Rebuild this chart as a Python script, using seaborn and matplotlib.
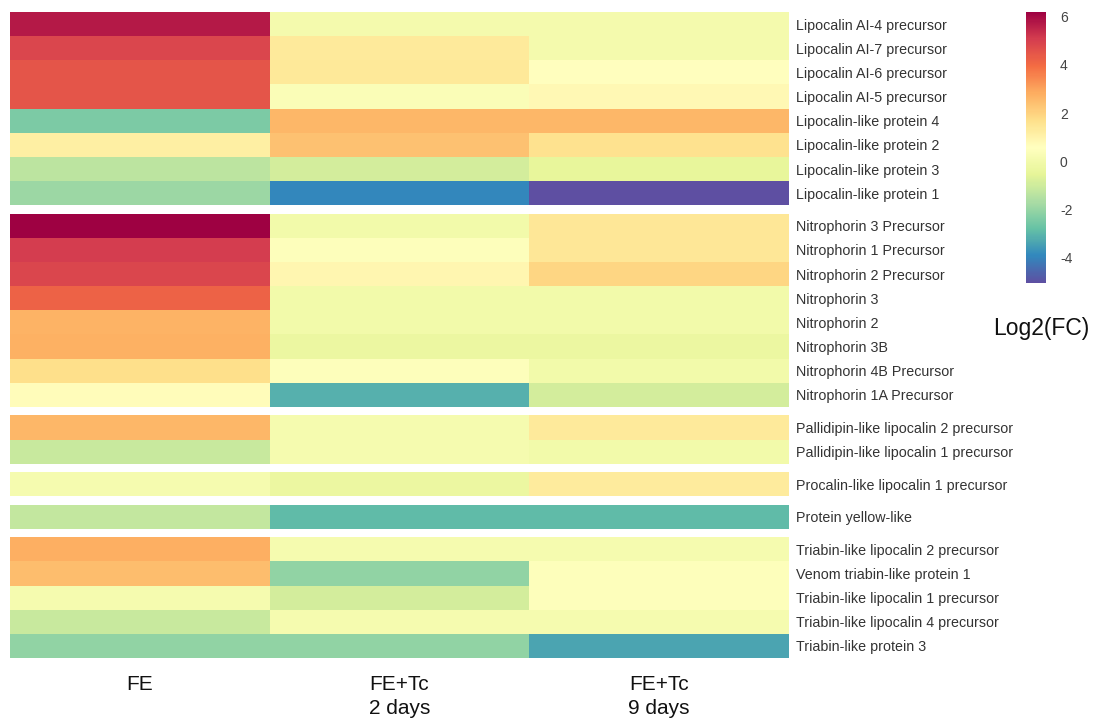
import numpy as np
import pandas as pd
import seaborn as sns
import matplotlib.pyplot as plt

# Experimental conditions (columns)
conditions = ["FE", "FE+Tc\n2 days", "FE+Tc\n9 days"]

# Protein families: names and log2 fold changes [FE, FE+Tc 2d, FE+Tc 9d]
lipocalin_names = [
    "Lipocalin AI-4 precursor", "Lipocalin AI-7 precursor",
    "Lipocalin AI-6 precursor", "Lipocalin AI-5 precursor",
    "Lipocalin-like protein 4", "Lipocalin-like protein 2",
    "Lipocalin-like protein 3", "Lipocalin-like protein 1",
]
lipocalin_fc = [
    [5.75, 0.05, 0.05],
    [4.85, 1.35, 0.05],
    [4.50, 1.40, 0.60],
    [4.50, 0.35, 0.80],
    [-2.45, 2.60, 2.60],
    [1.15, 2.40, 1.60],
    [-1.35, -0.90, -0.45],
    [-1.90, -3.95, -5.05],
]

nitrophorin_names = [
    "Nitrophorin 3 Precursor", "Nitrophorin 1 Precursor",
    "Nitrophorin 2 Precursor", "Nitrophorin 3", "Nitrophorin 2",
    "Nitrophorin 3B", "Nitrophorin 4B Precursor", "Nitrophorin 1A Precursor",
]
nitrophorin_fc = [
    [6.20, 0.00, 1.45],
    [5.10, 0.45, 1.45],
    [4.85, 0.90, 1.90],
    [4.20, 0.00, 0.00],
    [2.70, 0.00, 0.00],
    [2.75, -0.30, -0.30],
    [1.70, 0.45, 0.00],
    [0.70, -3.15, -0.90],
]

pallidipin_names = [
    "Pallidipin-like lipocalin 2 precursor",
    "Pallidipin-like lipocalin 1 precursor",
]
pallidipin_fc = [
    [2.60, 0.10, 1.35],
    [-1.10, 0.10, 0.00],
]

procalin_names = ["Procalin-like lipocalin 1 precursor"]
procalin_fc = [[0.10, -0.30, 1.30]]

yellow_names = ["Protein yellow-like"]
yellow_fc = [[-1.20, -2.90, -2.90]]

triabin_names = [
    "Triabin-like lipocalin 2 precursor", "Venom triabin-like protein 1",
    "Triabin-like lipocalin 1 precursor", "Triabin-like lipocalin 4 precursor",
    "Triabin-like protein 3",
]
triabin_fc = [
    [2.80, 0.10, 0.10],
    [2.50, -2.10, 0.45],
    [0.10, -0.90, 0.45],
    [-1.10, 0.10, 0.10],
    [-2.10, -2.10, -3.35],
]

cbar_ticks = [-4, -2, 0, 2, 4, 6]

groups = [
    (lipocalin_names, lipocalin_fc),
    (nitrophorin_names, nitrophorin_fc),
    (pallidipin_names, pallidipin_fc),
    (procalin_names, procalin_fc),
    (yellow_names, yellow_fc),
    (triabin_names, triabin_fc),
]
frames = [pd.DataFrame(v, index=n, columns=conditions) for n, v in groups]
all_vals = np.concatenate([f.values.ravel() for f in frames])
vmin, vmax = all_vals.min(), all_vals.max()

sns.set_theme(style="white")
plt.rcParams["font.family"] = ["Liberation Sans", "DejaVu Sans"]
plt.rcParams["axes.unicode_minus"] = False

W, H = 1100, 722
fig = plt.figure(figsize=(W / 100, H / 100), dpi=100)

# Stacked heatmap panels, one per protein family, separated by small gaps
left_px, right_px, top_px, bottom_px = 10, 789, 12, 658
gap_px = 8.4
n_rows = sum(len(f) for f in frames)
row_px = (bottom_px - top_px - gap_px * (len(frames) - 1)) / n_rows

cax = fig.add_axes([1026 / W, 1 - 283 / H, 20 / W, 271 / H])

y = top_px
for i, df in enumerate(frames):
    h = row_px * len(df)
    ax = fig.add_axes([left_px / W, 1 - (y + h) / H,
                       (right_px - left_px) / W, h / H])
    first = i == 0
    last = i == len(frames) - 1
    sns.heatmap(df, ax=ax, cmap="Spectral_r", vmin=vmin, vmax=vmax,
                cbar=first, cbar_ax=cax if first else None,
                xticklabels=last, yticklabels=True, linewidths=0)
    ax.yaxis.tick_right()
    ax.tick_params(axis="y", length=0, pad=5, labelsize=10.3,
                   labelcolor="#333333", labelrotation=0)
    if last:
        ax.tick_params(axis="x", length=0, pad=12, labelsize=15,
                       labelcolor="#111111", labelrotation=0)
        for t in ax.get_xticklabels():
            t.set_linespacing(1.35)
    else:
        ax.set_xticks([])
    ax.set_xlabel("")
    ax.set_ylabel("")
    y += h + gap_px

cax.set_yticks(cbar_ticks)
cax.tick_params(axis="y", length=0, pad=10, labelsize=10, labelcolor="#444444")
for s in cax.spines.values():
    s.set_visible(False)

fig.text(1041 / W, 1 - 328 / H, "Log2(FC)", ha="center", va="center",
         fontsize=16.5, color="#111111")

fig.savefig("out.png", dpi=100, facecolor="white")
